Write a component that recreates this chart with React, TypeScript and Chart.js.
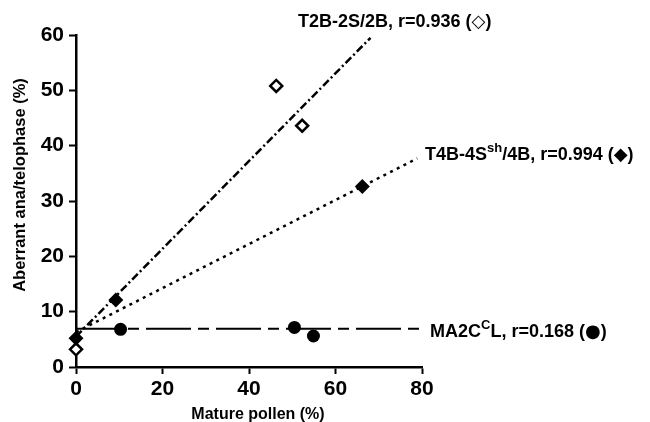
import React, { useEffect, useRef } from "react";
import { Chart, registerables } from "chart.js";

Chart.register(...registerables);

// ---- data ----
const t2bX = [0, 46.3, 52.3];
const t2bY = [3.2, 50.8, 43.6];
const t4bX = [0, 9.2, 66.2];
const t4bY = [5.2, 12.1, 32.6];
const ma2X = [10.3, 50.5, 54.9];
const ma2Y = [6.8, 7.15, 5.6];

// regression lines (end points)
const t2bFitX = [0, 68.1];
const t2bFitY = [5.5, 59.5];
const t4bFitX = [0, 78.9];
const t4bFitY = [6.3, 37.7];
const ma2FitX = [0, 79.6];
const ma2FitY = [6.9, 6.9];

const xTicks = [0, 20, 40, 60, 80];
const yTicks = [0, 10, 20, 30, 40, 50, 60];

const xTitle = "Mature pollen (%)";
const yTitle = "Aberrant ana/telophase (%)";

const FONT = '"Liberation Sans", Arial, Helvetica, sans-serif';
const SYMFONT = '"DejaVu Sans", sans-serif';

type Part = { t: string; sup?: boolean; sym?: boolean };
const label1: Part[] = [{ t: "T2B-2S/2B, r=0.936 (" }, { t: "◇", sym: true }, { t: ")" }];
const label2: Part[] = [
  { t: "T4B-4S" },
  { t: "sh", sup: true },
  { t: "/4B, r=0.994 (" },
  { t: "◆", sym: true },
  { t: ")" },
];
const label3: Part[] = [
  { t: "MA2C" },
  { t: "C", sup: true },
  { t: "L, r=0.168 (" },
  { t: "●", sym: true },
  { t: ")" },
];

const zip = (xs: number[], ys: number[]) => xs.map((x, i) => ({ x, y: ys[i] }));

function drawRich(ctx: CanvasRenderingContext2D, parts: Part[], x: number, y: number) {
  let cx = x;
  for (const p of parts) {
    if (p.sup) ctx.font = `bold 13px ${FONT}`;
    else if (p.sym) ctx.font = `bold 18px ${SYMFONT}`;
    else ctx.font = `bold 18px ${FONT}`;
    const dy = p.sup ? -8 : 0;
    ctx.fillText(p.t, cx, y + dy);
    cx += ctx.measureText(p.t).width;
  }
}

const textPlugin = {
  id: "texts",
  afterDraw(chart: any) {
    const ctx = chart.ctx as CanvasRenderingContext2D;
    ctx.save();
    ctx.fillStyle = "#000";
    ctx.textBaseline = "alphabetic";
    ctx.font = `bold 16px ${FONT}`;
    ctx.textAlign = "center";
    ctx.fillText(xTitle, 258, 419);
    ctx.save();
    ctx.translate(24.5, 185);
    ctx.rotate(-Math.PI / 2);
    ctx.font = `bold 16.5px ${FONT}`;
    ctx.fillText(yTitle, 0, 0);
    ctx.restore();
    ctx.textAlign = "left";
    drawRich(ctx, label1, 298, 27);
    drawRich(ctx, label2, 425, 160);
    drawRich(ctx, label3, 430, 337);
    ctx.restore();
  },
};

export default function App() {
  const ref = useRef<HTMLCanvasElement | null>(null);
  useEffect(() => {
    if (!ref.current) return;
    const chart = new Chart(ref.current, {
      type: "scatter",
      data: {
        datasets: [
          {
            label: "T2B fit",
            data: zip(t2bFitX, t2bFitY),
            showLine: true,
            borderColor: "#000",
            borderWidth: 2.5,
            borderDash: [8, 3, 2, 3],
            pointRadius: 0,
            clip: false,
          } as any,
          {
            label: "T4B fit",
            data: zip(t4bFitX, t4bFitY),
            showLine: true,
            borderColor: "#000",
            borderWidth: 2.5,
            borderDash: [3, 4.5],
            pointRadius: 0,
            clip: false,
          },
          {
            label: "MA2 fit",
            data: zip(ma2FitX, ma2FitY),
            showLine: true,
            borderColor: "#000",
            borderWidth: 2,
            borderDash: [45, 7, 11, 7],
            pointRadius: 0,
            clip: false,
          },
          {
            label: "MA2CCL",
            data: zip(ma2X, ma2Y),
            pointStyle: "circle",
            pointRadius: 6.5,
            backgroundColor: "#000",
            borderColor: "#000",
            borderWidth: 0,
            clip: false,
          },
          {
            label: "T4B-4Ssh/4B",
            data: zip(t4bX, t4bY),
            pointStyle: "rectRot",
            pointRadius: 7.5,
            backgroundColor: "#000",
            borderColor: "#000",
            borderWidth: 0,
            clip: false,
          },
          {
            label: "T2B-2S/2B",
            data: zip(t2bX, t2bY),
            pointStyle: "rectRot",
            pointRadius: 6,
            backgroundColor: "#fff",
            borderColor: "#000",
            borderWidth: 2.5,
            clip: false,
          },
        ],
      },
      options: {
        animation: false,
        responsive: false,
        events: [],
        layout: { padding: { left: 0, top: 35, right: 228, bottom: 0 } },
        plugins: { legend: { display: false }, tooltip: { enabled: false } },
        scales: {
          x: {
            type: "linear",
            min: 0,
            max: 80,
            afterFit: (s: any) => {
              s.height = 55;
            },
            afterBuildTicks: (s: any) => {
              s.ticks = xTicks.map((v) => ({ value: v }));
            },
            grid: {
              drawOnChartArea: false,
              drawTicks: true,
              tickLength: 7,
              tickWidth: 2,
              tickColor: "#000",
            },
            border: { display: true, color: "#000", width: 2.5 },
            ticks: {
              color: "#000",
              padding: 3,
              font: { family: FONT, size: 21, weight: "bold" },
            },
          },
          y: {
            type: "linear",
            min: 0,
            max: 60,
            afterFit: (s: any) => {
              s.width = 76;
            },
            afterBuildTicks: (s: any) => {
              s.ticks = yTicks.map((v) => ({ value: v }));
            },
            grid: {
              drawOnChartArea: false,
              drawTicks: true,
              tickLength: 7,
              tickWidth: 2,
              tickColor: "#000",
            },
            border: { display: true, color: "#000", width: 2.5 },
            ticks: {
              color: "#000",
              padding: 5,
              font: { family: FONT, size: 21, weight: "bold" },
            },
          },
        },
      } as any,
      plugins: [textPlugin],
    });
    return () => chart.destroy();
  }, []);
  return (
    <div style={{ position: "absolute", left: 0, top: 0, width: 650, height: 422, background: "#fff" }}>
      <canvas ref={ref} width={650} height={422} style={{ width: 650, height: 422, display: "block" }} />
    </div>
  );
}
